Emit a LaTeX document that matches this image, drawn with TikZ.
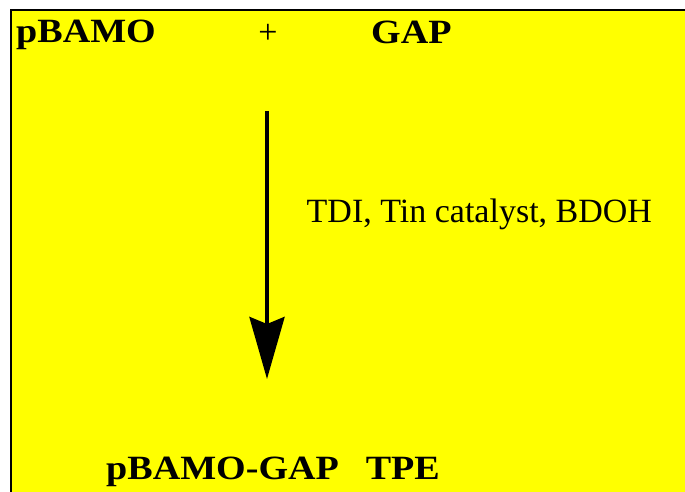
\documentclass[tikz,border=0pt]{standalone}
\usepackage{fontspec}
\setmainfont{Liberation Serif}
\usetikzlibrary{arrows.meta}
\definecolor{bgyellow}{RGB}{255,255,0}
\tikzset{
  boldlabel/.style={anchor=base west, inner sep=0pt, font=\fontsize{34}{37}\selectfont\bfseries},
  plainlabel/.style={anchor=base west, inner sep=0pt, font=\fontsize{34}{37}\selectfont},
  reactarrow/.style={line width=4pt, -{Stealth[length=62pt,width=35pt,inset=7pt]}}
}
\newcommand{\widebold}[1]{\scalebox{1.12}[1]{#1}}
\begin{document}
\begin{tikzpicture}[x=1pt,y=1pt]
\useasboundingbox (0,0) rectangle (685,-492);
\fill[white] (0,0) rectangle (685,-492);
\clip (0,0) rectangle (685,-492);
\draw[fill=bgyellow, line width=2pt] (11,-10.5) rectangle (700,-510);
\node[boldlabel] (pbamo) at (16,-43) {\widebold{pBAMO}};
\node[plainlabel, anchor=base] (plus) at (268,-43.5) {+};
\node[boldlabel] (gap) at (371,-43.5) {\widebold{GAP}};
\node[plainlabel] (cond) at (306.5,-222) {TDI, Tin catalyst, BDOH};
\node[boldlabel] (prod) at (106,-479) {\widebold{pBAMO-GAP\hspace{24pt}TPE}};
\coordinate (astart) at (267,-111);
\coordinate (aend) at (267,-379);
\draw[reactarrow] (astart) -- (aend);
\end{tikzpicture}
\end{document}
